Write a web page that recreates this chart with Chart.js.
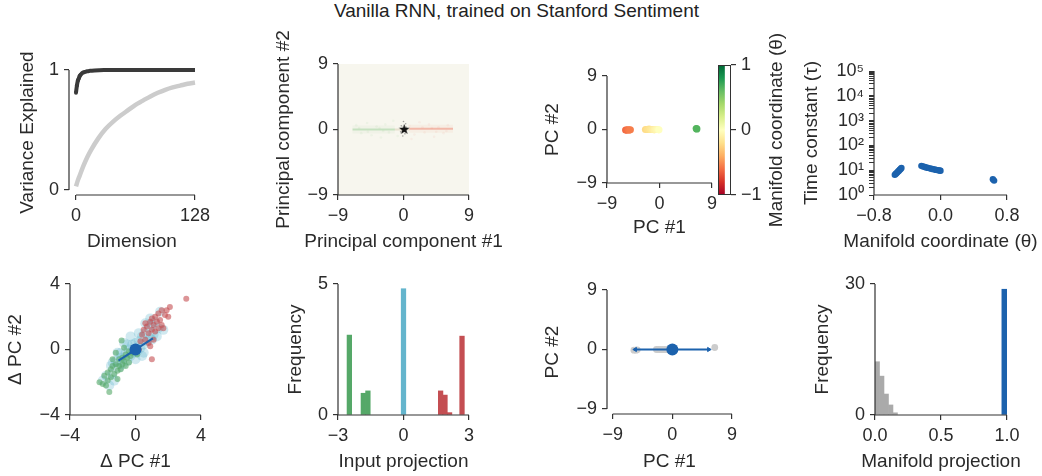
<!DOCTYPE html>
<html>
<head>
<meta charset="utf-8">
<script src="https://cdn.jsdelivr.net/npm/chart.js@4/dist/chart.umd.min.js"></script>
<style>
  body { margin: 0; background: #fff; width: 1042px; height: 476px; position: relative; overflow: hidden;
         font-family: 'Liberation Sans', Arial, Helvetica, sans-serif; }
  canvas { position: absolute; left: 0; top: 0; }
  #title { position: absolute; top: 0; left: 0; width: 1033px; text-align: center; font-size: 19px; color: #222; }
</style>
</head>
<body>
<div id="title">Vanilla RNN, trained on Stanford Sentiment</div>
<canvas id="c1" width="1042" height="476"></canvas>
<canvas id="c2" width="1042" height="476"></canvas>
<canvas id="c3" width="1042" height="476"></canvas>
<canvas id="cb" width="1042" height="476"></canvas>
<canvas id="c4" width="1042" height="476"></canvas>
<canvas id="c5" width="1042" height="476"></canvas>
<canvas id="c6" width="1042" height="476"></canvas>
<canvas id="c7" width="1042" height="476"></canvas>
<canvas id="c8" width="1042" height="476"></canvas>
<script>
// ---------- data ----------
// panel 1: variance explained vs dimension
const dimDark = [0, 1, 2, 3, 4, 5, 6, 8, 10, 12, 15, 20, 25, 30, 40, 50, 64, 80, 96, 112, 128];
const varDark = [0.81, 0.87, 0.91, 0.93, 0.95, 0.96, 0.97, 0.98, 0.985, 0.99, 0.993, 0.996, 0.998, 0.999, 1, 1, 1, 1, 1, 1, 1];
const dimLight = [0, 2, 4, 8, 12, 16, 24, 32, 40, 48, 56, 64, 72, 80, 88, 96, 104, 112, 120, 128];
const varLight = [0.03, 0.08, 0.12, 0.2, 0.27, 0.33, 0.43, 0.51, 0.57, 0.62, 0.665, 0.71, 0.745, 0.78, 0.81, 0.835, 0.855, 0.87, 0.885, 0.895];

// panel 2: hidden state cloud in PC space
const bandGreenX = [-7.0, -5.5, -4.0, -2.5, -1.2];
const bandGreenY = [0, 0, 0, 0, 0];
const bandMidX = [-1.2, 0.8];
const bandMidY = [0, 0];
const bandRedX = [0.8, 2.5, 4.0, 5.5, 6.8];
const bandRedY = [0.1, 0.1, 0.1, 0.1, 0.1];
const hazeGreenX = [-6.5, -5.8, -5.0, -4.4, -3.7, -3.1, -2.5, -2.0, -1.4, -0.8, -4.9, -3.3, -6.1, -2.8];
const hazeGreenY = [0.6, -0.5, 0.9, -0.8, 0.4, -1.1, 0.7, -0.4, 1.2, -0.9, -0.3, 0.2, 0.2, -0.2];
const hazeRedX = [0.8, 1.5, 2.2, 2.9, 3.5, 4.2, 4.8, 5.5, 6.1, 1.1, 3.9, 5.9, 2.6, 4.5];
const hazeRedY = [0.5, -0.7, 1.0, -0.4, 0.7, -1.0, 0.3, -0.5, 0.6, -1.3, 0.2, -0.2, 0.3, -0.3];
const dustX = [-0.3, 0.2, 0.4, -0.1, 0.3, -0.4, 0.0];
const dustY = [0.5, -0.6, 0.3, -0.9, 0.8, -0.3, 1.1];
const fixedPtX = [0.1];
const fixedPtY = [0];

// panel 3: fixed points coloured by manifold coordinate
const p3X = [-5.8, -5.6, -5.4, -5.2, -5.0, -2.4, -2.1, -1.8, -1.5, -1.2, -0.9, -0.6, -0.3, -0.1, 6.3, 6.4];
const p3Y = [-0.1, -0.1, -0.05, -0.1, -0.05, 0, 0, 0.05, 0, 0, -0.05, 0, 0, -0.05, 0.15, 0.1];
const p3Theta = [-0.62, -0.6, -0.58, -0.56, -0.55, -0.22, -0.2, -0.18, -0.15, -0.12, -0.09, -0.06, -0.03, 0.0, 0.63, 0.65];
const cbRange = [-1, 1];

// panel 4: time constants
const p4X = [-0.55, -0.54, -0.53, -0.52, -0.51, -0.50, -0.49, -0.48, -0.47, -0.23, -0.21, -0.19, -0.17, -0.15, -0.13, -0.11, -0.09, -0.07, -0.05, -0.03, -0.01, 0.0, 0.63, 0.645];
const p4Tau = [6.5, 7.0, 7.6, 8.2, 8.9, 9.6, 10.4, 11.3, 12.3, 15.0, 14.2, 13.5, 12.9, 12.4, 11.9, 11.4, 11.0, 10.6, 10.3, 10.0, 9.7, 9.5, 4.3, 3.8];

// panel 5: input-driven displacements
const cloudX = [-1.8, -1.5, -1.4, -1.2, -1.0, -0.9, -0.8, -0.6, -0.5, -0.4, -0.3, -0.2, -0.1, 0.0, 0.1, 0.2, 0.3, 0.4, 0.5, 0.6, 0.7, 0.8, 0.9, 1.0, 1.1, 1.2, 1.4, -0.7, 0.2, -1.1, 0.9, -1.6, 1.5, 0.0, -0.3, 0.5, -2.0, 1.7, -1.3, 0.6, -0.5, 0.4, -0.9, 1.0, -1.4, 1.3];
const cloudY = [-1.6, -1.0, -1.5, -0.7, -1.1, -0.5, -0.9, -0.2, -0.7, 0.0, -0.4, 0.3, -0.2, 0.4, -0.1, 0.5, 0.1, 0.8, 0.3, 1.0, 0.5, 1.3, 0.7, 1.5, 0.9, 1.7, 1.3, 0.4, 1.0, -0.2, 1.9, -2.2, 2.3, -0.6, 0.8, -0.2, -1.9, 1.2, -1.9, 1.6, 0.3, -0.4, -0.2, 0.6, -0.8, 0.8];
const negX = [-2.2, -2.0, -1.9, -1.8, -1.7, -1.6, -1.5, -1.5, -1.4, -1.3, -1.2, -1.1, -1.0, -1.0, -0.9, -0.8, -0.8, -0.7, -0.6, -0.6, -0.5, -0.4, -0.4, -0.3, -0.2, -0.85, -1.2, -1.4, 0.1, -1.7, -1.1, -0.7];
const negY = [-2.0, -2.1, -1.6, -2.2, -1.4, -2.6, -1.2, -1.7, -1.0, -1.5, -0.9, -1.3, -0.6, -1.0, -1.2, -0.5, -0.9, -0.7, -0.3, -1.0, -0.5, -0.1, -0.8, -0.4, -0.2, 0.55, -0.2, -0.6, -0.3, -1.9, -1.8, 0.1];
const posX = [0.3, 0.4, 0.5, 0.6, 0.7, 0.8, 0.9, 1.0, 1.0, 1.1, 1.2, 1.2, 1.3, 1.4, 1.4, 1.5, 1.6, 1.6, 1.8, 1.9, 2.0, 2.1, 3.1, 1.0, 0.9, 1.1, 0.2, 0.6, 1.7, 0.8];
const posY = [0.5, 0.9, 1.2, 0.6, 1.4, 1.0, 1.7, 1.2, 1.9, 1.5, 2.0, 1.1, 1.7, 1.3, 2.2, 1.8, 1.5, 2.4, 2.1, 2.4, 2.0, 2.6, 3.1, -0.6, 0.2, 0.6, 0.0, 1.6, 1.3, 0.4];
const readoutX = [-1.04, 1.06];
const readoutY = [-0.68, 0.68];
const originX = [0];
const originY = [0];

// panel 6: histogram of input projections
const binGreenX = [-2.48, -1.84, -1.63];
const binGreenY = [3.05, 0.83, 0.92];
const binBlueX = [0.0];
const binBlueY = [4.82];
const binRedX = [1.7, 1.9, 2.11, 2.68];
const binRedY = [0.92, 0.76, 0.09, 3.01];

// panel 7: fixed points and readout direction
const p7GrayX = [-5.8, -5.5, -5.3, -2.4, -2.1, -1.8, -1.5, -1.2, -0.9, -0.6, 6.4];
const p7GrayY = [-0.1, -0.1, -0.05, 0, 0, 0, 0, 0, 0, 0, 0.3];
const arrowX = [-5.6, 5.5];
const arrowY = [0, 0];

// panel 8: histogram of manifold projections
const projGrayX = [0.017, 0.051, 0.085, 0.119, 0.153];
const projGrayY = [12.2, 8.9, 4.8, 2.3, 0.5];
const projBlueX = [0.98];
const projBlueY = [28.8];

// tick values
const ticks01 = [0, 1];
const ticks9 = [-9, 0, 9];
const ticks4 = [-4, 0, 4];
const ticks3 = [-3, 0, 3];
const ticksDim = [0, 128];
const ticksTheta = [-0.8, 0, 0.8];
const ticksFreq5 = [0, 5];
const ticksFreq30 = [0, 30];
const ticksProj = [0, 0.5, 1];
const tauMajor = [1, 10, 100, 1000, 10000, 100000];

// ---------- style ----------
const PAGE_W = 1042, PAGE_H = 476;
const FONT = "'Liberation Sans', Arial, Helvetica, sans-serif";
const INK = '#333333', TXT = '#2a2a2a';
const GREEN = '#55A868', RED = '#C44E52', CYAN = '#64B5CD', BLUE = '#1c62ad', GRAY = '#cccccc';
const RDYLGN = ['#a50026', '#d73027', '#f46d43', '#fdae61', '#fee08b', '#ffffbf', '#d9ef8b', '#a6d96a', '#66bd63', '#1a9850', '#006837'];

Chart.defaults.font.family = FONT;
Chart.defaults.font.size = 18;
Chart.defaults.color = TXT;
Chart.defaults.animation = false;
Chart.defaults.responsive = false;
Chart.defaults.plugins.legend.display = false;
Chart.defaults.plugins.tooltip.enabled = false;

const pts = (xs, ys) => xs.map((x, i) => ({x: x, y: ys[i]}));
const minus = s => String(s).replace('-', '\u2212');
const fInt = v => minus(v);
const fOne = v => minus(Number(v).toFixed(1));
const SUP = ['\u2070', '\u00b9', '\u00b2', '\u00b3', '\u2074', '\u2075'];
const fLog = v => {
  const e = Math.round(Math.log10(v));
  return Math.abs(v - Math.pow(10, e)) < 1e-6 ? '10' + SUP[e] : '';
};

function hexRgb(h) {
  return [parseInt(h.slice(1, 3), 16), parseInt(h.slice(3, 5), 16), parseInt(h.slice(5, 7), 16)];
}
function cmap(t) {
  const u = Math.min(Math.max((t + 1) / 2, 0), 1) * (RDYLGN.length - 1);
  const i = Math.min(Math.floor(u), RDYLGN.length - 2), f = u - i;
  const a = hexRgb(RDYLGN[i]), b = hexRgb(RDYLGN[i + 1]);
  return 'rgb(' + a.map((c, k) => Math.round(c + (b[k] - c) * f)).join(',') + ')';
}

// panel boxes: chart area edges, y title centre x, x title centre y
const BOX = {
  p1: {l: 69, t: 70, r: 195, b: 195, ycx: 27.5, xcy: 242},
  p2: {l: 338, t: 64, r: 469, b: 195, ycx: 283.5, xcy: 242},
  p3: {l: 607, t: 76, r: 712, b: 183, ycx: 553, xcy: 228},
  cb: {l: 718, t: 65, r: 731, b: 195, ycx: 777},
  p4: {l: 874, t: 71, r: 1007, b: 195, ycx: 811.5, xcy: 242},
  p5: {l: 70, t: 284, r: 201, b: 415, ycx: 15.5, xcy: 462},
  p6: {l: 338, t: 284, r: 469, b: 415, ycx: 295.5, xcy: 462},
  p7: {l: 607, t: 290, r: 732, b: 414, ycx: 553, xcy: 462},
  p8: {l: 875, t: 284, r: 1007, b: 415, ycx: 822.5, xcy: 462}
};
const HALF = 11.4;

// spines drawn only over the tick range
const spinePlugin = {
  id: 'spines',
  afterDraw(chart, args, o) {
    if (!o || o.x0 === undefined) return;
    const {ctx, chartArea: a, scales} = chart;
    ctx.save();
    ctx.strokeStyle = INK;
    ctx.lineWidth = 1.2;
    ctx.beginPath();
    ctx.moveTo(scales.x.getPixelForValue(o.x0), a.bottom);
    ctx.lineTo(scales.x.getPixelForValue(o.x1), a.bottom);
    ctx.moveTo(a.left, scales.y.getPixelForValue(o.y0));
    ctx.lineTo(a.left, scales.y.getPixelForValue(o.y1));
    ctx.stroke();
    ctx.restore();
  }
};
const bgPlugin = {
  id: 'bgfill',
  beforeDatasetsDraw(chart, args, o) {
    if (!o || !o.color) return;
    const {ctx, chartArea: a} = chart;
    ctx.save();
    ctx.fillStyle = o.color;
    ctx.fillRect(a.left, a.top, a.right - a.left, a.bottom - a.top);
    ctx.restore();
  }
};
// axis titles at full size (the built-in ones get squeezed to the axis length)
const titlePlugin = {
  id: 'axtitles',
  afterDraw(chart, args, o) {
    if (!o || (!o.x && !o.y)) return;
    const ctx = chart.ctx;
    ctx.save();
    ctx.font = '19px ' + FONT;
    ctx.fillStyle = TXT;
    ctx.textAlign = 'center';
    ctx.textBaseline = 'middle';
    if (o.x) ctx.fillText(o.x, o.xcx, o.xcy);
    if (o.y) {
      ctx.translate(o.ycx, o.ycy);
      ctx.rotate(-Math.PI / 2);
      ctx.fillText(o.y, 0, 0);
    }
    ctx.restore();
  }
};
Chart.register(spinePlugin, bgPlugin, titlePlugin);

function scale(type, pos, min, max, tickVals, fmt) {
  return {
    type: type, position: pos, min: min, max: max, offset: false,
    afterBuildTicks: s => { s.ticks = tickVals.map(v => ({value: v})); },
    border: {display: false},
    grid: {drawOnChartArea: false, offset: false, tickLength: 5, color: INK, lineWidth: 1.2},
    ticks: {padding: 5, autoSkip: false, maxRotation: 0, minRotation: 0, color: TXT, callback: v => fmt(v)},
    title: {display: false}
  };
}

function opts(box, xs, ys, spine, titles, bg) {
  const wy = box.l - (box.ycx - HALF);
  const hx = box.xcy + HALF - box.b;
  xs.afterFit = s => { s.height = hx; };
  ys.afterFit = s => { s.width = wy; };
  return {
    layout: {padding: {left: box.ycx - HALF, top: box.t, right: PAGE_W - box.r, bottom: PAGE_H - box.b - hx}},
    scales: {x: xs, y: ys},
    plugins: {
      spines: spine,
      bgfill: bg || {},
      axtitles: {x: titles[0], y: titles[1], xcx: (box.l + box.r) / 2, xcy: box.xcy, ycx: box.ycx, ycy: (box.t + box.b) / 2}
    }
  };
}

function starImage(r) {
  const c = document.createElement('canvas');
  c.width = c.height = 2 * r + 2;
  const g = c.getContext('2d');
  g.beginPath();
  for (let i = 0; i < 10; i++) {
    const a = -Math.PI / 2 + i * Math.PI / 5, rr = i % 2 ? r * 0.42 : r;
    g.lineTo(r + 1 + rr * Math.cos(a), r + 1 + rr * Math.sin(a));
  }
  g.closePath();
  g.fillStyle = '#111';
  g.fill();
  return c;
}

// ---------- panel 1 ----------
new Chart(document.getElementById('c1'), {
  type: 'scatter',
  data: {datasets: [
    {data: pts(dimDark, varDark), showLine: true, borderColor: '#3a3a3a', backgroundColor: '#3a3a3a',
     borderWidth: 4, pointRadius: c => (c.dataIndex < 6 ? 2 : 0), pointBorderWidth: 0,
     cubicInterpolationMode: 'monotone', clip: false, order: 0},
    {data: pts(dimLight, varLight), showLine: true, borderColor: GRAY, borderWidth: 4.5,
     pointRadius: 0, cubicInterpolationMode: 'monotone', clip: false, order: 1}
  ]},
  options: opts(BOX.p1,
    scale('linear', 'bottom', -7.5, 128, ticksDim, fInt),
    scale('linear', 'left', -0.042, 1, ticks01, fInt),
    {x0: 0, x1: 128, y0: 0, y1: 1}, ['Dimension', 'Variance Explained'])
});

// ---------- panel 2 ----------
new Chart(document.getElementById('c2'), {
  type: 'scatter',
  data: {datasets: [
    {data: pts(fixedPtX, fixedPtY), pointStyle: starImage(5.5), order: 0},
    {data: pts(dustX, dustY), pointRadius: 0.8, backgroundColor: 'rgba(40,40,40,0.4)', borderWidth: 0, order: 1},
    {data: pts(bandRedX, bandRedY), showLine: true, borderColor: 'rgba(238,120,98,0.45)', borderWidth: 2, pointRadius: 0, order: 2},
    {data: pts(bandMidX, bandMidY), showLine: true, borderColor: 'rgba(185,160,115,0.25)', borderWidth: 2, pointRadius: 0, order: 3},
    {data: pts(bandGreenX, bandGreenY), showLine: true, borderColor: 'rgba(120,195,120,0.35)', borderWidth: 2, pointRadius: 0, order: 4},
    {data: pts(bandRedX, bandRedY), showLine: true, borderColor: 'rgba(238,150,120,0.08)', borderWidth: 8, pointRadius: 0, order: 5},
    {data: pts(bandGreenX, bandGreenY), showLine: true, borderColor: 'rgba(150,200,140,0.07)', borderWidth: 8, pointRadius: 0, order: 6},
    {data: pts(hazeRedX, hazeRedY), pointRadius: 1.3, backgroundColor: 'rgba(238,120,98,0.07)', borderWidth: 0, order: 7},
    {data: pts(hazeGreenX, hazeGreenY), pointRadius: 1.3, backgroundColor: 'rgba(120,195,120,0.07)', borderWidth: 0, order: 8}
  ]},
  options: opts(BOX.p2,
    scale('linear', 'bottom', -9, 9, ticks9, fInt),
    scale('linear', 'left', -9, 9, ticks9, fInt),
    {x0: -9, x1: 9, y0: -9, y1: 9}, ['Principal component #1', 'Principal component #2'], {color: '#f7f6ee'})
});

// ---------- panel 3 ----------
new Chart(document.getElementById('c3'), {
  type: 'scatter',
  data: {datasets: [
    {data: pts(p3X, p3Y), pointRadius: 3.6, borderWidth: 0,
     backgroundColor: c => cmap(p3Theta[c.dataIndex])}
  ]},
  options: opts(BOX.p3,
    scale('linear', 'bottom', -9, 9, ticks9, fInt),
    scale('linear', 'left', -9, 9, ticks9, fInt),
    {x0: -9, x1: 9, y0: -9, y1: 9}, ['PC #1', 'PC #2'])
});

// ---------- colorbar ----------
(function () {
  const box = BOX.cb;
  const wy = box.ycx + HALF - box.r;
  const ys = scale('linear', 'right', cbRange[0], cbRange[1], [-1, 0, 1], fInt);
  ys.afterFit = s => { s.width = wy; };
  new Chart(document.getElementById('cb'), {
    type: 'bar',
    data: {labels: [''], datasets: [{
      data: [cbRange], barPercentage: 1, categoryPercentage: 1, borderWidth: 0,
      backgroundColor: c => {
        const a = c.chart.chartArea;
        if (!a) return '#ffffbf';
        const g = c.chart.ctx.createLinearGradient(0, a.bottom, 0, a.top);
        RDYLGN.forEach((col, i) => g.addColorStop(i / (RDYLGN.length - 1), col));
        return g;
      }
    }]},
    options: {
      layout: {padding: {left: box.l, top: box.t, right: PAGE_W - box.r - wy, bottom: PAGE_H - box.b}},
      scales: {x: {display: false, offset: false}, y: ys},
      plugins: {spines: false, axtitles: {y: 'Manifold coordinate (\u03b8)', ycx: box.ycx, ycy: (box.t + box.b) / 2}}
    },
    plugins: [{
      id: 'frame',
      afterDraw(chart) {
        const {ctx, chartArea: a} = chart;
        ctx.save();
        ctx.strokeStyle = INK;
        ctx.lineWidth = 1;
        ctx.strokeRect(a.left + 0.5, a.top + 0.5, a.right - a.left - 1, a.bottom - a.top - 1);
        ctx.restore();
      }
    }]
  });
})();

// ---------- panel 4 ----------
(function () {
  const tauTicks = [];
  tauMajor.forEach((m, i) => {
    tauTicks.push(m);
    if (i < tauMajor.length - 1) for (let k = 2; k < 10; k++) tauTicks.push(m * k);
  });
  const ys = scale('logarithmic', 'left', 1, 100000, tauTicks, fLog);
  ys.grid.lineWidth = 1;
  new Chart(document.getElementById('c4'), {
    type: 'scatter',
    data: {datasets: [
      {data: pts(p4X, p4Tau), pointRadius: 3.2, borderWidth: 0, backgroundColor: BLUE}
    ]},
    options: opts(BOX.p4,
      scale('linear', 'bottom', -0.8, 0.8, ticksTheta, fOne),
      ys, {x0: -0.8, x1: 0.8, y0: 1, y1: 100000},
      ['Manifold coordinate (\u03b8)', 'Time constant (\u03c4)'])
  });
})();

// ---------- panel 5 ----------
new Chart(document.getElementById('c5'), {
  type: 'scatter',
  data: {datasets: [
    {data: pts(originX, originY), pointRadius: 6, borderWidth: 0, backgroundColor: BLUE, order: 0},
    {data: pts(readoutX, readoutY), showLine: true, borderColor: BLUE, borderWidth: 2, pointRadius: 0, order: 1},
    {data: pts(posX, posY), pointRadius: 3, borderWidth: 0, backgroundColor: 'rgba(196,78,82,0.6)', order: 2},
    {data: pts(negX, negY), pointRadius: 3, borderWidth: 0, backgroundColor: 'rgba(85,168,104,0.6)', order: 3},
    {data: pts(cloudX, cloudY), pointRadius: 5, borderWidth: 0, backgroundColor: 'rgba(100,181,205,0.3)', order: 4}
  ]},
  options: opts(BOX.p5,
    scale('linear', 'bottom', -4, 4, ticks4, fInt),
    scale('linear', 'left', -4, 4, ticks4, fInt),
    {x0: -4, x1: 4, y0: -4, y1: 4}, ['\u0394 PC #1', '\u0394 PC #2'])
});

// ---------- panel 6 ----------
new Chart(document.getElementById('c6'), {
  type: 'bar',
  data: {datasets: [
    {data: pts(binGreenX, binGreenY), backgroundColor: GREEN, barThickness: 4.6, grouped: false},
    {data: pts(binBlueX, binBlueY), backgroundColor: CYAN, barThickness: 4.6, grouped: false},
    {data: pts(binRedX, binRedY), backgroundColor: RED, barThickness: 4.6, grouped: false}
  ]},
  options: opts(BOX.p6,
    scale('linear', 'bottom', -3, 3, ticks3, fInt),
    scale('linear', 'left', 0, 5, ticksFreq5, fInt),
    {x0: -3, x1: 3, y0: 0, y1: 5}, ['Input projection', 'Frequency'])
});

// ---------- panel 7 ----------
new Chart(document.getElementById('c7'), {
  type: 'scatter',
  data: {datasets: [
    {data: pts(originX, originY), pointRadius: 6, borderWidth: 0, backgroundColor: BLUE, order: 0},
    {data: pts(arrowX, arrowY), showLine: true, borderColor: BLUE, borderWidth: 2, backgroundColor: BLUE,
     pointStyle: 'triangle', pointRadius: 2.4, pointBorderWidth: 1, rotation: [-90, 90], order: 1},
    {data: pts(p7GrayX, p7GrayY), pointRadius: 3.4, borderWidth: 0, backgroundColor: GRAY, order: 2}
  ]},
  options: opts(BOX.p7,
    scale('linear', 'bottom', -9.86, 9, ticks9, fInt),
    scale('linear', 'left', -9.76, 9, ticks9, fInt),
    {x0: -9, x1: 9, y0: -9, y1: 9}, ['PC #1', 'PC #2'])
});

// ---------- panel 8 ----------
new Chart(document.getElementById('c8'), {
  type: 'bar',
  data: {datasets: [
    {data: pts(projBlueX, projBlueY), backgroundColor: BLUE, barThickness: 5, grouped: false},
    {data: pts(projGrayX, projGrayY), backgroundColor: '#aaaaaa', barThickness: 4.5, grouped: false}
  ]},
  options: opts(BOX.p8,
    scale('linear', 'bottom', 0, 1, ticksProj, fOne),
    scale('linear', 'left', 0, 30, ticksFreq30, fInt),
    {x0: 0, x1: 1, y0: 0, y1: 30}, ['Manifold projection', 'Frequency'])
});
</script>
</body>
</html>
